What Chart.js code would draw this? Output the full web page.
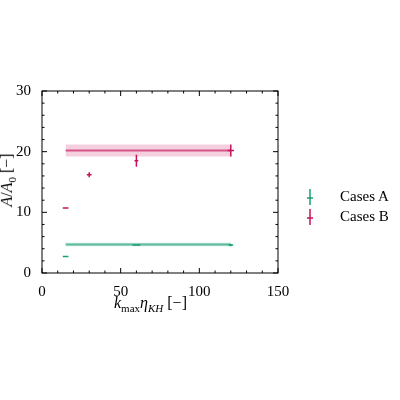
<!DOCTYPE html>
<html>
<head>
<meta charset="utf-8">
<script src="https://cdn.jsdelivr.net/npm/chart.js@4"></script>
<style>
  body { margin: 0; background: #fff; }
  #wrap { position: relative; width: 400px; height: 400px; font-family: "Liberation Serif", serif; }
  .lbl { position: absolute; font-size: 16px; color: #000; white-space: nowrap; }
  .leg { position: absolute; font-size: 15px; }
</style>
</head>
<body>
<div id="wrap">
  <canvas id="c" width="400" height="400"></canvas>
  <div class="lbl" style="left:114px; top:294px;"><i>k</i><sub style="font-size:11px">max</sub><i>η</i><sub style="font-size:11px"><i>KH</i></sub> [−]</div>
  <div class="lbl" style="left:-42px; top:170px; transform: rotate(-90deg); transform-origin: center; width:100px; text-align:center;"><i>A</i>/<i>A</i><sub style="font-size:11px">0</sub> [−]</div>
  <div class="leg" style="left:340px; top:188px;">Cases A</div>
  <div class="leg" style="left:340px; top:208px;">Cases B</div>
  <svg style="position:absolute; left:300px; top:188px;" width="30" height="40">
    <line x1="10" y1="1" x2="10" y2="17" stroke="#1b9e77" stroke-width="1.5"/>
    <line x1="7" y1="10" x2="13" y2="10" stroke="#1b9e77" stroke-width="1.5"/>
    <line x1="10" y1="21" x2="10" y2="37" stroke="#c8105a" stroke-width="1.5"/>
    <line x1="7" y1="30" x2="13" y2="30" stroke="#c8105a" stroke-width="1.5"/>
  </svg>
</div>
<script>
// Cases A
const xA = [15, 60, 120];
const yA = [2.7, 4.6, 4.6];
const xErrA = [1.8, 2.5, 1.5];
const yErrA = [0.05, 0.1, 0.2];
const meanA = 4.7, bandA = 0.3;

// Cases B
const xB = [15, 30, 60, 120];
const yB = [10.7, 16.2, 18.5, 20.2];
const xErrB = [1.8, 1.5, 1.2, 2];
const yErrB = [0.05, 0.4, 1.0, 1.0];
const meanB = 20.2, bandB = 1.0;

const lineX = [15, 120];
const greenCol = '#1b9e77', pinkCol = '#c8105a';

const pts = (xs, ys) => xs.map((x, i) => ({x: x, y: ys[i]}));
const flat = (v) => lineX.map(x => ({x: x, y: v}));

const errorBars = {
    id: 'errorBars',
    afterDatasetsDraw(chart) {
        const ctx = chart.ctx, sx = chart.scales.x, sy = chart.scales.y;
        const sets = [[xA, yA, xErrA, yErrA, greenCol], [xB, yB, xErrB, yErrB, pinkCol]];
        ctx.save();
        ctx.lineWidth = 1.5;
        sets.forEach(([xs, ys, xe, ye, col]) => {
            ctx.strokeStyle = col;
            xs.forEach((x, i) => {
                ctx.beginPath();
                ctx.moveTo(sx.getPixelForValue(x - xe[i]), sy.getPixelForValue(ys[i]));
                ctx.lineTo(sx.getPixelForValue(x + xe[i]), sy.getPixelForValue(ys[i]));
                ctx.moveTo(sx.getPixelForValue(x), sy.getPixelForValue(ys[i] - ye[i]));
                ctx.lineTo(sx.getPixelForValue(x), sy.getPixelForValue(ys[i] + ye[i]));
                ctx.stroke();
            });
        });
        // frame and inward ticks on all sides
        const a = chart.chartArea;
        ctx.strokeStyle = '#000';
        ctx.lineWidth = 1;
        ctx.strokeRect(a.left, a.top, a.right - a.left, a.bottom - a.top);
        ctx.beginPath();
        for (let v = 0; v <= 150; v += 10) {
            const p = sx.getPixelForValue(v), len = v % 50 === 0 ? 5 : 2.5;
            ctx.moveTo(p, a.bottom); ctx.lineTo(p, a.bottom - len);
            ctx.moveTo(p, a.top); ctx.lineTo(p, a.top + len);
        }
        for (let v = 0; v <= 30; v += 2) {
            const p = sy.getPixelForValue(v), len = v % 10 === 0 ? 5 : 2.5;
            ctx.moveTo(a.left, p); ctx.lineTo(a.left + len, p);
            ctx.moveTo(a.right, p); ctx.lineTo(a.right - len, p);
        }
        ctx.stroke();
        ctx.restore();
    }
};

new Chart(document.getElementById('c'), {
    type: 'scatter',
    data: {
        datasets: [
            {data: flat(meanA - bandA), showLine: true, borderWidth: 0, pointRadius: 0, fill: false},
            {data: flat(meanA + bandA), showLine: true, borderWidth: 0, pointRadius: 0, fill: '-1', backgroundColor: 'rgba(27,158,119,0.25)'},
            {data: flat(meanA), showLine: true, borderColor: 'rgba(27,158,119,0.6)', borderWidth: 2, pointRadius: 0},
            {data: flat(meanB - bandB), showLine: true, borderWidth: 0, pointRadius: 0, fill: false},
            {data: flat(meanB + bandB), showLine: true, borderWidth: 0, pointRadius: 0, fill: '-1', backgroundColor: 'rgba(200,16,90,0.2)'},
            {data: flat(meanB), showLine: true, borderColor: 'rgba(200,16,90,0.65)', borderWidth: 2, pointRadius: 0},
            {data: pts(xA, yA), pointRadius: 0},
            {data: pts(xB, yB), pointRadius: 0}
        ]
    },
    options: {
        responsive: false,
        animation: false,
        layout: {padding: {left: 10, top: 91, right: 122, bottom: 101}},
        plugins: {legend: {display: false}, tooltip: {enabled: false}},
        scales: {
            x: {
                min: 0, max: 150,
                grid: {display: false}, border: {display: false},
                ticks: {stepSize: 50, padding: 2, color: '#000', font: {family: 'Liberation Serif', size: 15}},
                afterFit: s => { s.height = 26; }
            },
            y: {
                min: 0, max: 30,
                grid: {display: false}, border: {display: false},
                ticks: {stepSize: 10, color: '#000', font: {family: 'Liberation Serif', size: 15}},
                afterFit: s => { s.width = 32; }
            }
        }
    },
    plugins: [errorBars]
});
</script>
</body>
</html>
